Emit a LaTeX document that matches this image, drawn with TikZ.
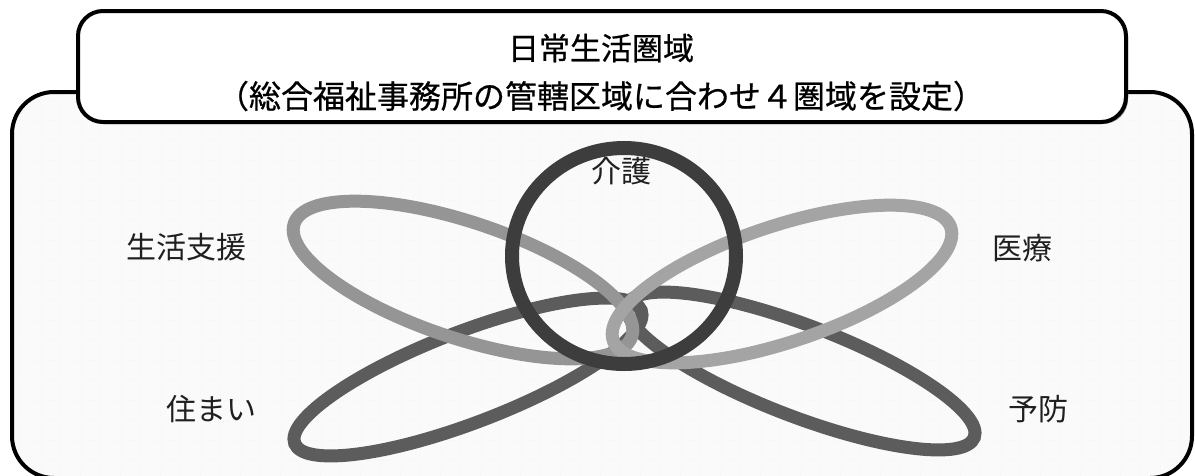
\documentclass[tikz,border=0pt]{standalone}
\usepackage{fontspec}
\newfontfamily\jp{Noto Sans CJK JP}
\newfontfamily\jpt[FakeBold=0.6]{Noto Sans CJK JP}
\definecolor{lightA}{HTML}{959595}
\definecolor{lightB}{HTML}{A4A4A4}
\definecolor{darkE}{HTML}{5C5C5C}
\definecolor{ringC}{HTML}{3D3D3D}
\definecolor{paper}{HTML}{FAFAFA}
\begin{document}
\begin{tikzpicture}[x=1pt,y=-1pt,
  frame/.style={line width=4pt, draw=black},
  band/.style={line width=13pt},
  lbl/.style={font=\jp\fontsize{30}{36}\selectfont, inner sep=0pt, text=black!88},
  ttl/.style={inner sep=0pt, text=black}]
\useasboundingbox (0,0) rectangle (1195,475);
% outer area
\fill[white] (0,0) rectangle (1195,475);
\fill[paper, rounded corners=42] (12,92) rectangle (1192,478);
\begin{scope}
  \clip[rounded corners=42] (12,92) rectangle (1192,478);
  \draw[black!4, line width=0.5pt, dotted, step=20pt] (0,0) grid (1195,480);
\end{scope}
\draw[frame, rounded corners=42] (12,92) rectangle (1192,478);
% title box
\fill[black!40, rounded corners=25] (80,13) rectangle (1128,124);
\draw[frame, fill=white, rounded corners=25] (78,11) rectangle (1126,122);
\node[ttl, font=\jpt\fontsize{31}{36}\selectfont] (title1) at (601,48) {日常生活圏域};
\node[ttl, font=\jpt\fontsize{32}{36}\selectfont] (title2) at (601,96) {（総合福祉事務所の管轄区域に合わせ４圏域を設定）};
% ellipses
\draw[band, draw=darkE, rotate around={21:(468,377)}] (468,377) ellipse [x radius=185.6, y radius=45.5];
\draw[band, draw=darkE, rotate around={-21:(801,371)}] (801,371) ellipse [x radius=185.6, y radius=45.5];
\draw[band, draw=lightA, rotate around={-18.5:(463,280)}] (463,280) ellipse [x radius=178, y radius=58];
\draw[band, draw=lightB, rotate around={18.5:(782,284)}] (782,284) ellipse [x radius=178, y radius=58];
\draw[line width=14pt, draw=ringC] (624,256) ellipse [x radius=112, y radius=108];
% labels
\node[lbl] (kaigo) at (621,171) {介護};
\node[lbl] (seikatsu) at (186,247) {生活支援};
\node[lbl] (iryo) at (1022,248) {医療};
\node[lbl] (sumai) at (211,409) {住まい};
\node[lbl] (yobo) at (1038,409) {予防};
\end{tikzpicture}
\end{document}
